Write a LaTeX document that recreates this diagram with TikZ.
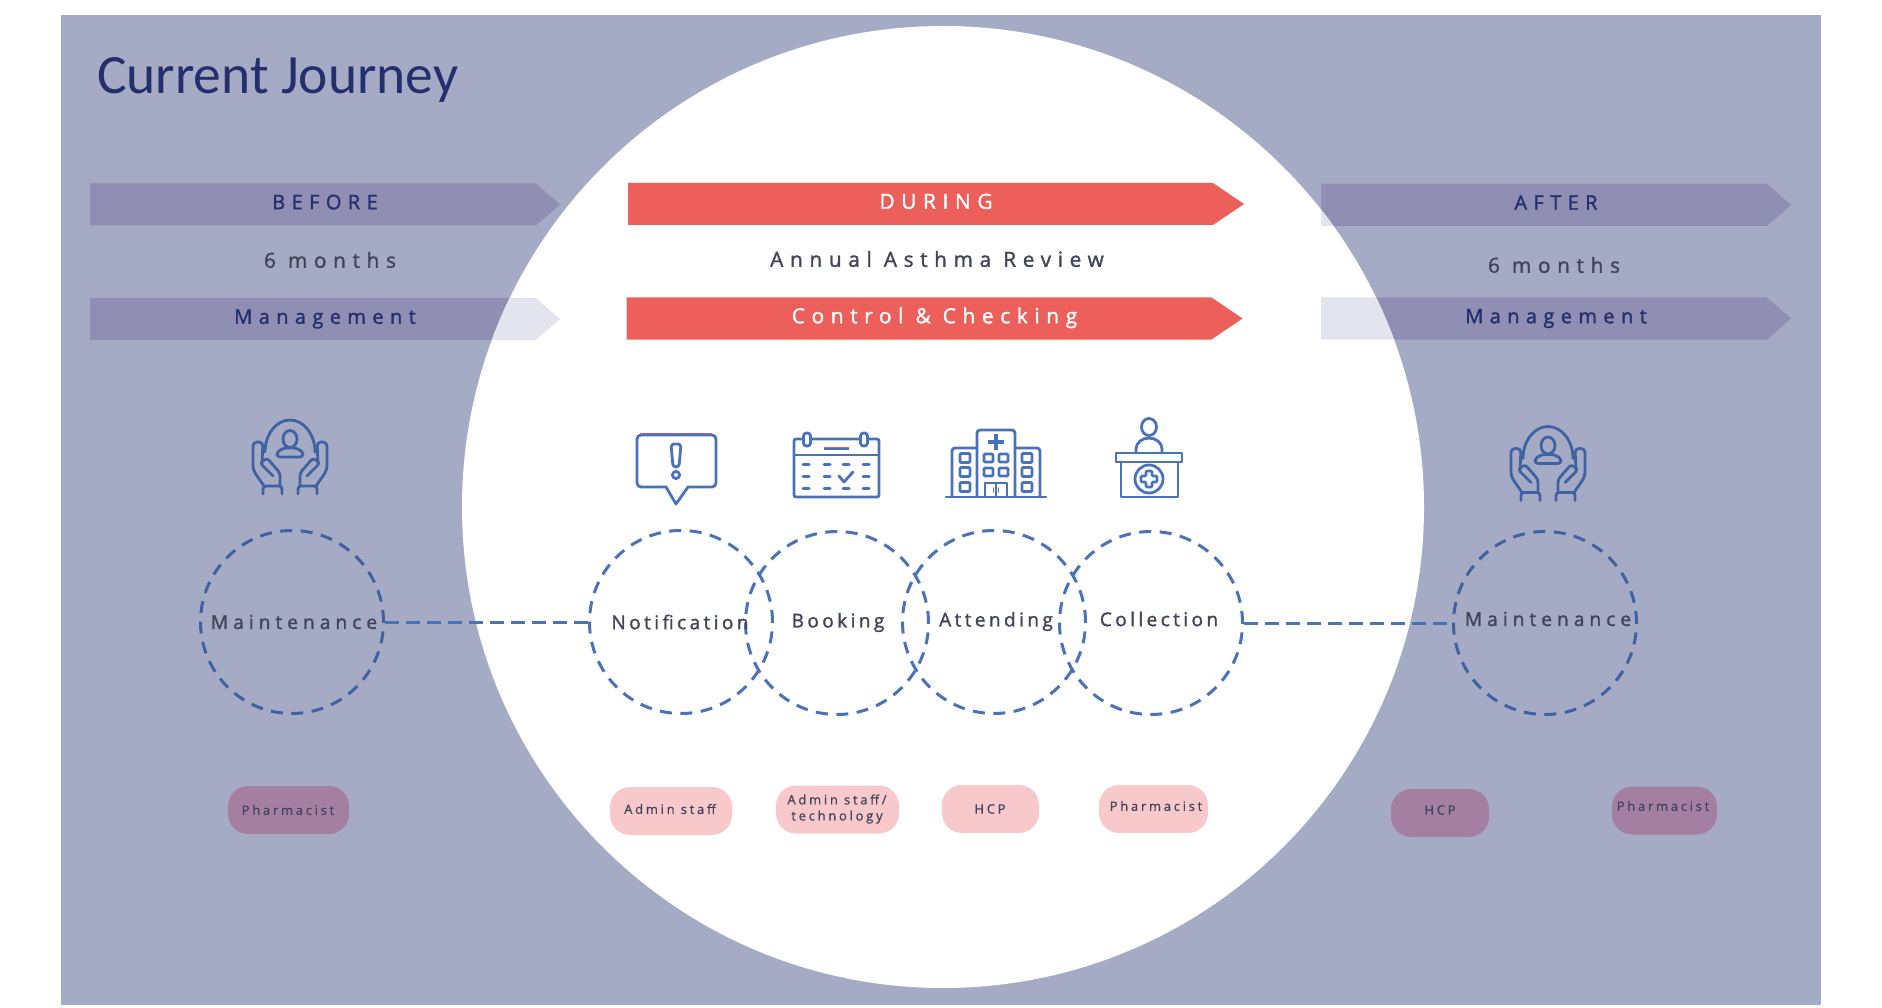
\documentclass[tikz,border=0pt]{standalone}
\usepackage{fontspec}
\usetikzlibrary{shapes.symbols}
\setmainfont{Open Sans}
\newfontfamily\titlefont{Carlito}
\newfontfamily\wideface[LetterSpace=32,FakeBold=1.5]{Open Sans}
\newfontfamily\midface[LetterSpace=26,FakeBold=1.5]{Open Sans}
\newfontfamily\ringface[LetterSpace=18,FakeBold=1.5]{Open Sans}
\newfontfamily\tightface[LetterSpace=21,FakeBold=0.8]{Open Sans}
\definecolor{panelblue}{HTML}{A6ABC5}
\definecolor{barmuted}{HTML}{908EB2}
\definecolor{barlight}{HTML}{E3E4EE}
\definecolor{barred}{HTML}{EC5F5A}
\definecolor{navy}{HTML}{24306E}
\definecolor{slate}{HTML}{42455A}
\definecolor{ringblue}{HTML}{4A72B8}
\definecolor{ringdark}{HTML}{3F62A2}
\definecolor{pillpink}{HTML}{F8C9CB}
\definecolor{pillplum}{HTML}{A57F9F}
\tikzset{
	phasebar/.style={signal,signal to=east,signal pointer angle=82,minimum width=470pt,minimum height=42pt,inner sep=0pt,outer sep=0pt,fill=barmuted,text=navy,text height=15pt,text depth=5.5pt,font=\fontsize{20}{24}\wideface,execute at begin node=\hspace*{24pt}},
	redbar/.style={phasebar,signal pointer angle=68,minimum width=616pt,fill=barred,text=white,font=\fontsize{20.8}{24}\wideface,execute at begin node=\hspace*{7pt}},
	spanlabel/.style={inner sep=0pt,text=slate,font=\fontsize{20.8}{24}\wideface},
	ring/.style={circle,draw=#1,line width=3pt,dash pattern=on 12pt off 8.5pt,minimum size=183pt,inner sep=0pt},
	ringlabel/.style={inner sep=0pt,text=slate,font=\fontsize{19}{23}\ringface},
	maintlabel/.style={ringlabel,font=\fontsize{19.2}{23}\midface},
	link/.style={draw=ringblue,line width=3pt,dash pattern=on 14pt off 7pt},
	pill/.style={rectangle,rounded corners=20pt,fill=#1,minimum height=48pt,inner sep=0pt},
	pilllabel/.style={inner sep=0pt,align=center,text=#1,font=\fontsize{13}{16}\tightface},
	icon/.style={line width=2.8pt,line join=round,line cap=round},
	care/.pic={
		\draw[icon] (-25,-5) arc (180:360:25 and 32);
		\draw[icon] (0,-18) ellipse (7 and 8.5);
		\draw[icon,rounded corners=3pt] (-13,0) -- (-13,-5) -- (-6,-9) -- (6,-9) -- (13,-5) -- (13,0) -- cycle;
		\foreach \side in {1,-1}{
			\begin{scope}[xscale=\side]
				\draw[icon,rounded corners=3pt] (-8,37) -- (-8,29) -- (-27,29) -- (-27,37);
				\draw[icon,rounded corners=3pt] (-10,29) -- (-10,16) -- (-23,1) -- (-30,6) -- (-17,19);
				\draw[icon,rounded corners=4pt] (-26,29) -- (-37,13) -- (-37,-15) -- (-27,-15) -- (-28,7);
			\end{scope}
		}
	},
	alert/.pic={
		\draw[barred,line width=1pt] (-36,-34.5) -- (36,-34.5);
		\draw[icon,rounded corners=4pt] (-39,-33) rectangle (40,19);
		\fill[white] (-9,17) rectangle (11,21);
		\draw[icon] (-10,19) -- (0,36) -- (12,19);
		\draw[icon,rounded corners=3pt] (-5,-24) -- (5,-24) -- (3,-1) -- (-3,-1) -- cycle;
		\draw[icon] (0,7) circle (3.6);
	},
	calendar/.pic={
		\draw[icon,rounded corners=2pt] (-42,-27) rectangle (43,31);
		\draw[icon] (-42,-11) -- (43,-11);
		\foreach \cx in {-29,28}{
			\draw[icon,fill=white,rounded corners=3pt] (\cx-3.5,-33) rectangle (\cx+3.5,-20);
		}
		\draw[ringblue,line width=3pt] (-12,-18) -- (13,-18);
		\draw[barred,line width=1pt] (-12,-19) -- (13,-19);
		\foreach \cx in {-30,-9,10,30}{
			\draw[ringblue,line width=3pt,line cap=round] (\cx-3,-2) -- (\cx+3,-2);
			\draw[ringblue,line width=3pt,line cap=round] (\cx-3,22) -- (\cx+3,22);
		}
		\foreach \cx in {-30,-9,30}{
			\draw[ringblue,line width=3pt,line cap=round] (\cx-3,10) -- (\cx+3,10);
		}
		\draw[icon] (3,10) -- (8,16) -- (17,6);
	},
	hospital/.pic={
		\draw[icon,rounded corners=3pt] (-19,33) -- (-19,-34) -- (19,-34) -- (19,33);
		\draw[icon,rounded corners=3pt] (-19,-16) -- (-44,-16) -- (-44,33);
		\draw[icon,rounded corners=3pt] (19,-16) -- (44,-16) -- (44,33);
		\draw[icon] (-50,33) -- (50,33);
		\draw[ringblue,line width=4.5pt] (-8,-22) -- (8,-22) (0,-30) -- (0,-14);
		\foreach \wy in {-6,8,23}{
			\draw[icon,rounded corners=1pt] (-36,\wy-4.5) rectangle (-26,\wy+4.5);
			\draw[icon,rounded corners=1pt] (26,\wy-4.5) rectangle (36,\wy+4.5);
		}
		\foreach \wy in {-6,8}{
			\draw[icon,rounded corners=1pt] (-12,\wy-4) rectangle (-3,\wy+4);
			\draw[icon,rounded corners=1pt] (3,\wy-4) rectangle (12,\wy+4);
		}
		\draw[icon] (-11,33) -- (-11,19) -- (11,19) -- (11,33) (0,19) -- (0,33);
		\draw[icon,line width=1.4pt] (-2.5,24) -- (-2.5,28) (2.5,24) -- (2.5,28);
	},
	desk/.pic={
		\draw[icon] (0,-33) ellipse (7.5 and 8.5);
		\draw[icon] (-13,-7) -- (-13,-11) arc (180:360:13 and 11) -- (13,-7);
		\draw[icon] (-33,-7) rectangle (33,2);
		\draw[icon] (-28,2) -- (-28,37) -- (29,37) -- (29,2);
		\draw[icon] (0,19) circle (14);
		\draw[icon,rounded corners=1pt] (-3,11) -- (3,11) -- (3,16) -- (8,16) -- (8,22) -- (3,22) -- (3,27) -- (-3,27) -- (-3,22) -- (-8,22) -- (-8,16) -- (-3,16) -- cycle;
	}
}
\begin{document}
\begin{tikzpicture}[x=1pt,y=-1pt]
	\useasboundingbox (0,0) rectangle (1882,1008);
	\fill[panelblue] (61,15) rectangle (1821,1005);

	% bars that run under the white disc
	\node[phasebar] (before) at (313,204.5) {BEFORE};
	\node[phasebar] (mgmtleft) at (313,319) {Management};
	\node[phasebar] (after) at (1544,205) {AFTER};
	\node[phasebar] (mgmtright) at (1544,318.5) {Management};

	\node[circle,fill=white,minimum size=962pt,inner sep=0pt] (disc) at (943,507) {};
	\begin{scope}
		\clip (943,507) circle [radius=481];
		\node[phasebar,fill=barlight] at (313,319) {};
		\node[phasebar,fill=barlight] at (1544,205) {};
		\node[phasebar,fill=barlight] at (1544,318.5) {};
	\end{scope}

	\node[anchor=base west,inner sep=0pt,text=navy,font=\fontsize{55.5}{60}\titlefont] (title) at (97,94) {Current Journey};

	\node[redbar] (during) at (920.5,204) {DURING};
	\node[redbar] (control) at (919,318.5) {Control \& Checking};

	\node[spanlabel] (monthsleft) at (330,260) {6 months};
	\node[spanlabel] (review) at (937,259) {Annual Asthma Review};
	\node[spanlabel] (monthsright) at (1554,265) {6 months};

	% icons
	\pic[ringdark] at (290,457) {care};
	\pic[ringblue] at (676,468) {alert};
	\pic[ringblue] at (836,466) {calendar};
	\pic[ringblue] at (996,464) {hospital};
	\pic[ringblue] at (1149,460) {desk};
	\pic[ringdark] at (1548,463.5) {care};

	% journey circles
	\node[ring=ringdark] (maintleft) at (292,622) {};
	\node[ring=ringblue] (notification) at (681,622) {};
	\node[ring=ringblue] (booking) at (837,623) {};
	\node[ring=ringblue] (attending) at (994,622) {};
	\node[ring=ringblue] (collection) at (1151,623) {};
	\node[ring=ringdark] (maintright) at (1545,623) {};

	\draw[link] (maintleft.east) -- (notification.west);
	\draw[link] (collection.east) -- (maintright.west);

	\node[maintlabel] (maintlefttext) at (294,622) {Maintenance};
	\node[ringlabel] (notificationtext) at (680,622) {Notification};
	\node[ringlabel] (bookingtext) at (838,622.5) {Booking};
	\node[ringlabel] (attendingtext) at (996,621.5) {Attending};
	\node[ringlabel] (collectiontext) at (1159,619) {Collection};
	\node[maintlabel] (maintrighttext) at (1548,619) {Maintenance};

	% roles
	\node[pill=pillplum,minimum width=121pt] (roleleft) at (288.5,810) {};
	\node[pill=pillpink,minimum width=122pt] (roleadmin) at (671,811) {};
	\node[pill=pillpink,minimum width=123pt] (roletech) at (837.5,809.5) {};
	\node[pill=pillpink,minimum width=97pt] (rolehcp) at (990.5,809) {};
	\node[pill=pillpink,minimum width=109pt] (rolepharm) at (1153.5,809) {};
	\node[pill=pillplum,minimum width=98pt] (rightextra) at (1440,813) {};
	\node[pill=pillplum,minimum width=105pt] (rightpharm) at (1664.5,810.5) {};

	\node[pilllabel=slate] at (288,810) {Pharmacist};
	\node[pilllabel=slate] at (670,809) {Admin staff};
	\node[pilllabel=slate] at (837,809) {Admin staff/\\technology};
	\node[pilllabel=slate] at (990,809) {HCP};
	\node[pilllabel=slate] at (1156,806) {Pharmacist};
	\node[pilllabel=slate] at (1440,810) {HCP};
	\node[pilllabel=slate] at (1663,806) {Pharmacist};
\end{tikzpicture}
\end{document}
